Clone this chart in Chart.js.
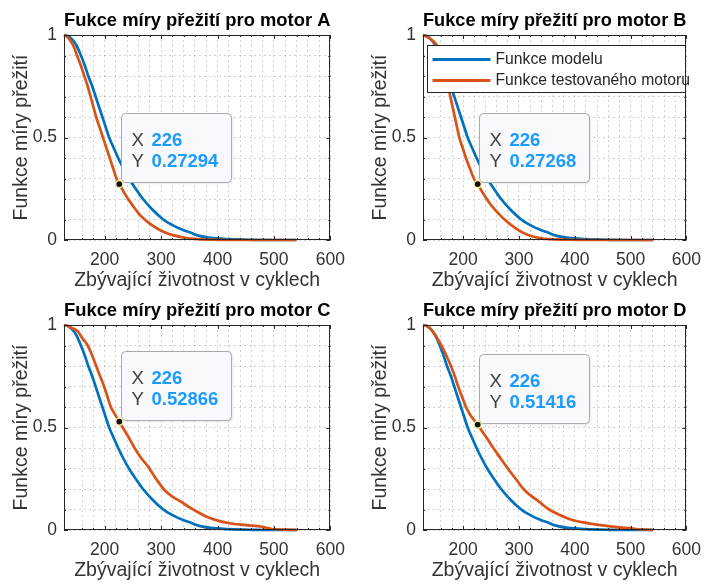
<!DOCTYPE html>
<html><head><meta charset="utf-8">
<script src="https://cdn.jsdelivr.net/npm/chart.js@4"></script>
<style>
html,body{margin:0;padding:0;background:#fff;}
body{width:711px;height:585px;position:relative;overflow:hidden;}
canvas{position:absolute;}
</style></head><body>
<canvas id="cA" width="355" height="290" style="left:0;top:0"></canvas>
<canvas id="cB" width="356" height="290" style="left:355px;top:0"></canvas>
<canvas id="cC" width="355" height="290" style="left:0;top:290px"></canvas>
<canvas id="cD" width="356" height="290" style="left:355px;top:290px"></canvas>
<script>
// ---- data ----
const motorNames = ['A', 'B', 'C', 'D'];
const titlePrefix = 'Fukce míry přežití pro motor ';
const xTitle = 'Zbývající životnost v cyklech';
const yTitle = 'Funkce míry přežití';
const seriesLabels = ['Funkce modelu', 'Funkce testovaného motoru'];
const xTickLabels = [200, 300, 400, 500, 600];
const yTickLabels = [0, 0.5, 1];

const modelX = [128,135,142,150,158,165,171,178,184,190,196,202,208,216,224,233,243,255,268,284,304,322,338,353,368,388,420,460,500,540];
const modelY = [1,0.995,0.98,0.95,0.9,0.85,0.8,0.75,0.7,0.65,0.6,0.55,0.5,0.45,0.4,0.35,0.3,0.25,0.2,0.15,0.1,0.07,0.05,0.035,0.02,0.01,0.004,0.001,0,0];

const testAX = [128,134,140,146,151,158,164,170,175,180,185,191,197,203,209,215,221,226,231,237,244,252,260,269,280,293,306,321,340,365,400,450,540];
const testAY = [1,0.99,0.97,0.94,0.9,0.85,0.8,0.75,0.7,0.65,0.6,0.55,0.5,0.45,0.4,0.35,0.3,0.27294,0.248,0.22,0.19,0.16,0.13,0.105,0.08,0.056,0.038,0.024,0.012,0.004,0.001,0,0];

const testBX = [128,136,144,150,155,160,165,170,174,177,181,185,189,193,199,205,212,219,226,231,237,244,253,263,274,285,297,307,319,335,354,400,450,540];
const testBY = [1,0.99,0.975,0.96,0.94,0.9,0.85,0.79,0.74,0.7,0.65,0.6,0.55,0.5,0.45,0.4,0.35,0.3,0.27268,0.249,0.222,0.193,0.16,0.13,0.1,0.075,0.052,0.036,0.022,0.011,0.004,0.001,0,0];

const testCX = [128,135,142,152,162,170,178,185,192,199,205,211,218,226,233,243,253,265,277,291,306,320,335,350,364,378,393,421,450,479,497,520,542];
const testCY = [1,0.995,0.985,0.97,0.93,0.9,0.85,0.8,0.75,0.7,0.65,0.6,0.565,0.52866,0.495,0.45,0.4,0.35,0.309,0.25,0.195,0.163,0.138,0.112,0.089,0.068,0.052,0.033,0.024,0.016,0.005,0.002,0];

const testDX = [128,135,142,150,161,170,178,185,191,198,205,212,219,226,233,242,254,267,280,294,308,320,335,354,372,394,420,457,490,510,540];
const testDY = [1,0.995,0.98,0.95,0.9,0.85,0.8,0.75,0.7,0.65,0.6,0.565,0.538,0.51416,0.485,0.45,0.4,0.35,0.3,0.25,0.2,0.17,0.14,0.1,0.075,0.05,0.035,0.02,0.01,0.005,0];

const tipX = 226;
const tipY = [0.27294, 0.27268, 0.52866, 0.51416];
const tipYText = ['0.27294', '0.27268', '0.52866', '0.51416'];

// ---- styling ----
const FONT = '"Liberation Sans", Arial, Helvetica, sans-serif';
const BLUE = '#0072BD';
const ORANGE = '#D95319';
const AXIS = '#262626';

const framePlugin = {
  id: 'frame',
  afterDatasetsDraw(chart) {
    const ctx = chart.ctx, a = chart.chartArea;
    const xs = chart.scales.x, ys = chart.scales.y;
    ctx.save();
    ctx.strokeStyle = AXIS; ctx.lineWidth = 1;
    ctx.strokeRect(Math.round(a.left) + 0.5, Math.round(a.top) + 0.5, Math.round(a.right - a.left) - 1, Math.round(a.bottom - a.top) - 1);
    ctx.beginPath();
    xs.ticks.forEach(t => {
      const p = Math.round(xs.getPixelForValue(t.value)) + 0.5;
      const L = xTickLabels.includes(t.value) ? 4 : 2;
      ctx.moveTo(p, a.bottom); ctx.lineTo(p, a.bottom - L);
      ctx.moveTo(p, a.top); ctx.lineTo(p, a.top + L);
    });
    ys.ticks.forEach(t => {
      const p = Math.round(ys.getPixelForValue(t.value)) + 0.5;
      const L = yTickLabels.includes(t.value) ? 4 : 2;
      ctx.moveTo(a.left, p); ctx.lineTo(a.left + L, p);
      ctx.moveTo(a.right, p); ctx.lineTo(a.right - L, p);
    });
    ctx.stroke();
    ctx.restore();
  }
};

function roundRect(ctx, x, y, w, h, r) {
  ctx.beginPath();
  ctx.moveTo(x + r, y);
  ctx.lineTo(x + w - r, y); ctx.quadraticCurveTo(x + w, y, x + w, y + r);
  ctx.lineTo(x + w, y + h - r); ctx.quadraticCurveTo(x + w, y + h, x + w - r, y + h);
  ctx.lineTo(x + r, y + h); ctx.quadraticCurveTo(x, y + h, x, y + h - r);
  ctx.lineTo(x, y + r); ctx.quadraticCurveTo(x, y, x + r, y);
  ctx.closePath();
}

function tipPlugin(idx) {
  return {
    id: 'datatip',
    afterDatasetsDraw(chart) {
      const ctx = chart.ctx;
      const px = chart.scales.x.getPixelForValue(tipX);
      const py = chart.scales.y.getPixelForValue(tipY[idx]);
      const bw = 110, bh = 69;
      const bx = Math.round(px + 1.5) + 0.5, by = Math.round(py - 2 - bh) + 0.5;
      ctx.save();
      ctx.shadowColor = 'rgba(0,0,0,0.12)'; ctx.shadowBlur = 3; ctx.shadowOffsetX = 1; ctx.shadowOffsetY = 1;
      roundRect(ctx, bx, by, bw, bh, 4);
      ctx.fillStyle = '#f8f8fd'; ctx.fill();
      ctx.shadowColor = 'transparent';
      ctx.strokeStyle = '#a9a9b0'; ctx.lineWidth = 1; ctx.stroke();
      ctx.textBaseline = 'alphabetic'; ctx.textAlign = 'left';
      const rows = [['X', String(tipX)], ['Y', tipYText[idx]]];
      rows.forEach((r, i) => {
        const yy = by + 32 + i * 21;
        ctx.font = '18.5px ' + FONT; ctx.fillStyle = '#404040';
        ctx.fillText(r[0], bx + 10, yy);
        ctx.font = 'bold 18.5px ' + FONT; ctx.fillStyle = '#1a9bff';
        ctx.fillText(r[1], bx + 30, yy);
      });
      ctx.beginPath(); ctx.arc(px, py, 3.6, 0, Math.PI * 2);
      ctx.fillStyle = '#111'; ctx.fill();
      ctx.strokeStyle = '#f2eea8'; ctx.lineWidth = 1.4; ctx.stroke();
      ctx.restore();
    }
  };
}

const legendPlugin = {
  id: 'innerLegend',
  afterDraw(chart) {
    const ctx = chart.ctx, a = chart.chartArea;
    const lx = Math.round(a.left + 4) + 0.5, ly = Math.round(a.top + 10) + 0.5;
    const lw = Math.round(a.right - a.left - 4) - 1, lh = 47;
    ctx.save();
    ctx.fillStyle = '#fff'; ctx.fillRect(lx, ly, lw, lh);
    ctx.strokeStyle = AXIS; ctx.lineWidth = 1; ctx.strokeRect(lx, ly, lw, lh);
    chart.data.datasets.forEach((ds, i) => {
      const yy = ly + 14 + i * 21;
      ctx.beginPath(); ctx.moveTo(lx + 5, yy); ctx.lineTo(lx + 63, yy);
      ctx.strokeStyle = ds.borderColor; ctx.lineWidth = 3; ctx.stroke();
      ctx.font = '15.7px ' + FONT; ctx.fillStyle = AXIS;
      ctx.textBaseline = 'middle'; ctx.textAlign = 'left';
      ctx.fillText(ds.label, lx + 68, yy);
    });
    ctx.restore();
  }
};

function pts(xs, ys) { return xs.map((x, i) => ({ x: x, y: ys[i] })); }

function makeChart(id, idx, testX, testY) {
  const leftW = (idx % 2 === 0) ? 64 : 68;
  const rightPad = (idx % 2 === 0) ? 19 : 16;
  const plugins = [framePlugin, tipPlugin(idx)];
  if (idx === 1) plugins.push(legendPlugin);
  new Chart(document.getElementById(id), {
    type: 'line',
    data: {
      datasets: [
        { label: seriesLabels[0], data: pts(modelX, modelY), borderColor: BLUE, backgroundColor: BLUE, order: 1,
          borderWidth: 2.7, pointRadius: 0, cubicInterpolationMode: 'monotone', fill: false, clip: 3 },
        { label: seriesLabels[1], data: pts(testX, testY), borderColor: ORANGE, backgroundColor: ORANGE, order: 0,
          borderWidth: 2.7, pointRadius: 0, cubicInterpolationMode: 'monotone', fill: false, clip: 3 }
      ]
    },
    options: {
      responsive: false, animation: false, events: [],
      layout: { padding: { left: 0, right: rightPad, top: 0, bottom: 0 } },
      plugins: {
        legend: { display: false },
        tooltip: { enabled: false },
        title: { display: true, text: titlePrefix + motorNames[idx], fullSize: false, color: '#000',
          font: { family: FONT, size: 19, weight: 'bold', lineHeight: 1 }, padding: { top: 11, bottom: 5 } }
      },
      scales: {
        x: {
          type: 'linear', min: 128, max: 600,
          afterFit: s => { s.height = 50; },
          ticks: { stepSize: 20, autoSkip: false, maxRotation: 0, minRotation: 0, padding: 10, color: '#333',
            font: { family: FONT, size: 17.5 },
            callback: v => xTickLabels.includes(v) ? String(v) : '' },
          grid: { color: 'rgba(0,0,0,0.18)', lineWidth: 1, drawTicks: false },
          border: { display: false, dash: [2, 3] },
          title: { display: true, text: xTitle, color: '#333', font: { family: FONT, size: 19.5, lineHeight: 1 },
            padding: { top: 0, bottom: 0 } }
        },
        y: {
          type: 'linear', min: 0, max: 1,
          afterFit: s => { s.width = leftW; },
          ticks: { stepSize: 0.1, autoSkip: false, padding: 7, color: '#333',
            font: { family: FONT, size: 17.5 },
            callback: v => yTickLabels.includes(v) ? String(v) : '' },
          grid: { color: 'rgba(0,0,0,0.18)', lineWidth: 1, drawTicks: false },
          border: { display: false, dash: [2, 3] },
          title: { display: true, text: yTitle, color: '#333', font: { family: FONT, size: 19.5, lineHeight: 1 },
            padding: { top: 11.5 + (leftW - 64), bottom: 0 } }
        }
      }
    },
    plugins: plugins
  });
}

makeChart('cA', 0, testAX, testAY);
makeChart('cB', 1, testBX, testBY);
makeChart('cC', 2, testCX, testCY);
makeChart('cD', 3, testDX, testDY);
</script>
</body></html>
